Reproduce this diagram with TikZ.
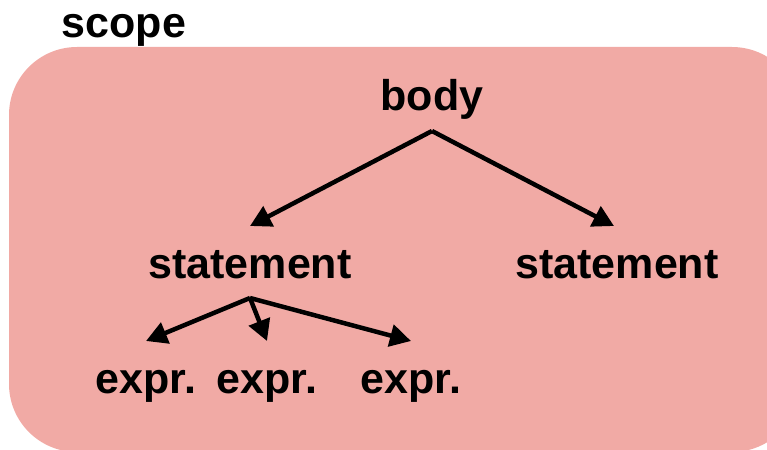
\documentclass[tikz,border=0pt]{standalone}
\usepackage{fontspec}
\setmainfont{Liberation Sans}
\usepackage{xcolor}
\usepackage{tikz}
\usetikzlibrary{arrows.meta}
\definecolor{scopebg}{RGB}{241,170,165}

\begin{document}
\begin{tikzpicture}[x=1pt,y=-1pt,
  font=\fontsize{43}{47}\selectfont\bfseries,
  lbl/.style={anchor=base,inner xsep=0pt,inner ysep=20pt,outer sep=0pt,text height=32pt,text depth=0pt},
  a/.style={-{Triangle[length=21pt,width=22pt]},line width=4.5pt}]
  \clip (0,0) rectangle (767,449);
  % scope region
  \fill[scopebg,rounded corners=68pt] (9,47) rectangle (800,452);
  \node[anchor=base,inner sep=0pt] (scope) at (124,38) {scope};
  \node[lbl] (body) at (432,111) {body};
  \node[lbl] (st1) at (250,278) {statement};
  \node[lbl] (st2) at (617,278) {statement};
  \node[lbl] (e1) at (146,393) {expr.};
  \node[lbl] (e2) at (267,393) {expr.};
  \node[lbl] (e3) at (411,393) {expr.};
  \draw[a] (body.south) -- (st1.north);
  \draw[a] (body.south) -- ([xshift=-3pt]st2.north);
  \foreach \e in {e1,e2,e3} {\draw[a] (st1.south) -- (\e.north);}
\end{tikzpicture}
\end{document}
